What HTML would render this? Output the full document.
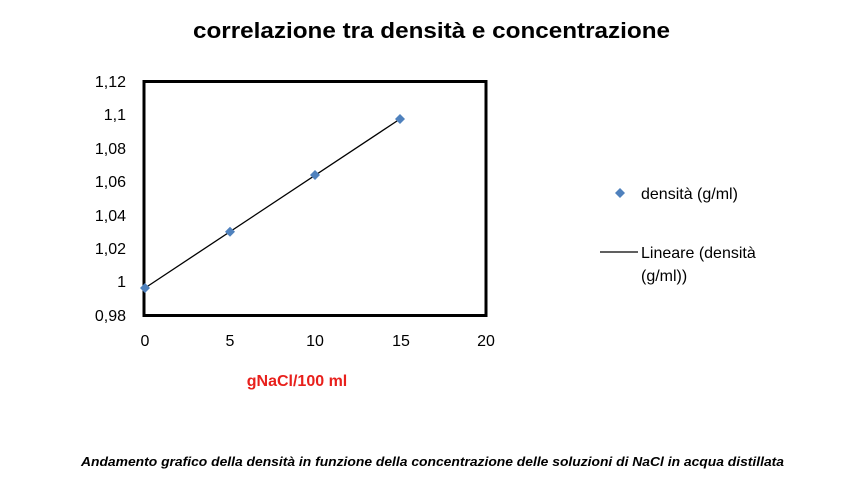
<!DOCTYPE html>
<html><head><meta charset="utf-8"><style>
html,body{margin:0;padding:0;background:#fff;}
svg{display:block;font-family:"Liberation Sans",sans-serif;}
</style></head><body>
<svg width="843" height="497" viewBox="0 0 843 497" xmlns="http://www.w3.org/2000/svg">
<rect width="843" height="497" fill="#fff"/>
<text x="193" y="38" font-size="22" font-weight="bold" textLength="477" lengthAdjust="spacingAndGlyphs">correlazione tra densità e concentrazione</text>
<rect x="144" y="81.5" width="342" height="234" fill="none" stroke="#000" stroke-width="3"/>
<g font-size="16" text-anchor="end" fill="#000">
<text x="126" y="87">1,12</text>
<text x="126" y="120">1,1</text>
<text x="126" y="154">1,08</text>
<text x="126" y="187">1,06</text>
<text x="126" y="221">1,04</text>
<text x="126" y="254">1,02</text>
<text x="126" y="287">1</text>
<text x="126" y="321">0,98</text>
</g>
<g font-size="16" text-anchor="middle" fill="#000">
<text x="145" y="346">0</text>
<text x="230" y="346">5</text>
<text x="315" y="346">10</text>
<text x="401" y="346">15</text>
<text x="486" y="346">20</text>
</g>
<line x1="145" y1="288" x2="400" y2="119" stroke="#000" stroke-width="1.3"/>
<g fill="#4f81bd">
<path d="M145 283 L150 288 L145 293 L140 288Z"/>
<path d="M230 226.7 L235 231.7 L230 236.7 L225 231.7Z"/>
<path d="M315 170 L320 175 L315 180 L310 175Z"/>
<path d="M400 114 L405 119 L400 124 L395 119Z"/>
<path d="M620 188 L625 193 L620 198 L615 193Z"/>
</g>
<text x="641" y="199" font-size="16">densità (g/ml)</text>
<line x1="600" y1="252" x2="638" y2="252" stroke="#000" stroke-width="1.3"/>
<text x="641" y="258" font-size="16">Lineare (densità</text>
<text x="641" y="281" font-size="16">(g/ml))</text>
<text x="297" y="386" font-size="16" font-weight="bold" fill="#e8201c" text-anchor="middle">gNaCl/100 ml</text>
<text x="81" y="466" font-size="13" font-weight="bold" font-style="italic" textLength="703" lengthAdjust="spacingAndGlyphs">Andamento grafico della densità in funzione della concentrazione delle soluzioni di NaCl in acqua distillata</text>
</svg>
</body></html>
